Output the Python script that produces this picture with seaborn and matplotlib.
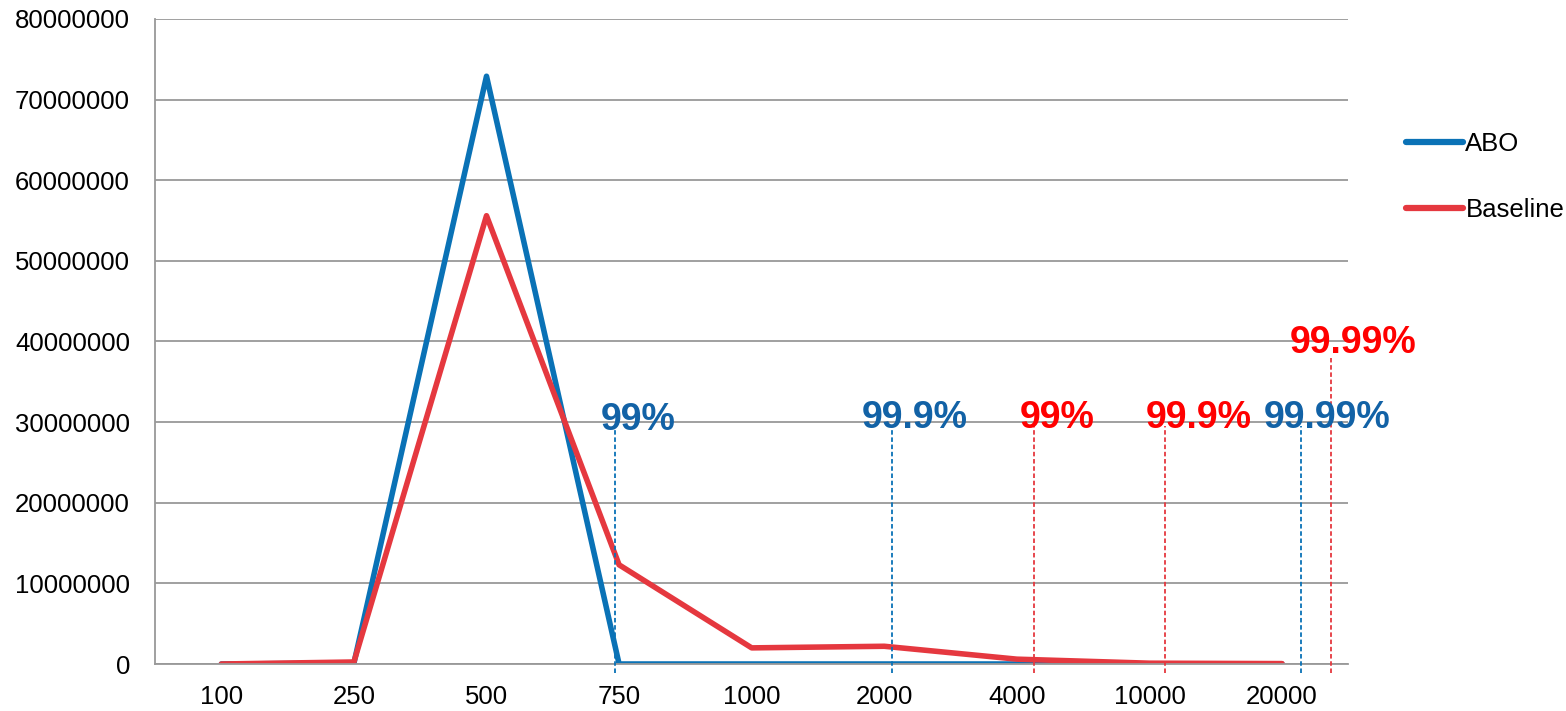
import matplotlib
matplotlib.use("Agg")
import matplotlib.pyplot as plt
import seaborn as sns
import pandas as pd
from matplotlib.ticker import FixedLocator, FuncFormatter

sns.set_style("white")
plt.rcParams['font.family'] = ['Liberation Sans', 'DejaVu Sans']
plt.rcParams['text.color'] = 'black'

# data
categories = ["100", "250", "500", "750", "1000", "2000", "4000", "10000", "20000"]
abo = [0, 100000, 72900000, 0, 0, 0, 0, 0, 0]
baseline = [0, 250000, 55600000, 12300000, 2000000, 2200000, 600000, 100000, 50000]

# percentile markers (position on category axis, label, series)
marker_pos = [2.97, 5.06, 6.13, 7.12, 8.14, 8.37]
marker_text = ["99%", "99.9%", "99%", "99.9%", "99.99%", "99.99%"]
marker_series = ["ABO", "ABO", "Baseline", "Baseline", "ABO", "Baseline"]
marker_top = [29500000, 29500000, 29500000, 29500000, 29500000, 38000000]
label_x = [2.86, 4.83, 6.02, 6.97, 7.86, 8.06]
label_y = [29000000, 29300000, 29300000, 29300000, 29300000, 38600000]

line_colors = {"ABO": "#0A72B6", "Baseline": "#E5383F"}
text_colors = {"ABO": "#1262A6", "Baseline": "#FF0000"}

df = pd.DataFrame({
    "size": categories * 2,
    "value": abo + baseline,
    "series": ["ABO"] * len(categories) + ["Baseline"] * len(categories),
})

fig = plt.figure(figsize=(15.66, 7.11), dpi=100)
ax = fig.add_axes([0.099, 0.0661, 0.762, 0.9072])

sns.lineplot(data=df, x="size", y="value", hue="series", palette=line_colors,
             linewidth=4, ax=ax, sort=False)

# dashed percentile lines + labels
for pos, txt, ser, top, lx, ly in zip(marker_pos, marker_text, marker_series,
                                      marker_top, label_x, label_y):
    ax.plot([pos, pos], [-1100000, top], linestyle=(0, (2.5, 1.5)), lw=1.3,
            color=line_colors[ser], clip_on=False, zorder=3)
    ax.text(lx, ly, txt, color=text_colors[ser], fontsize=27, fontweight="bold",
            ha="left", va="baseline", zorder=4)

ax.set_xlim(-0.5, 8.5)
ax.set_ylim(0, 80000000)
ax.set_xlabel("")
ax.set_ylabel("")

ax.set_xticks(range(len(categories)))
ax.set_xticklabels(categories)
ax.xaxis.set_minor_locator(FixedLocator([i + 0.5 for i in range(-1, len(categories))]))
ax.tick_params(axis="x", which="major", length=0, pad=15, labelsize=18.5,
               labelcolor="black")
ax.tick_params(axis="x", which="minor", length=6, width=1.3, color="#999999")

ax.set_yticks(range(0, 80000001, 10000000))
ax.yaxis.set_major_formatter(FuncFormatter(lambda v, p: f"{int(v)}"))
ax.tick_params(axis="y", length=7, width=1.3, color="#999999", labelsize=18.5,
               labelcolor="black", pad=11)

ax.grid(axis="y", color="#999999", lw=1.3)
ax.set_axisbelow(True)
for side in ["top", "right"]:
    ax.spines[side].set_visible(False)
for side in ["left", "bottom"]:
    ax.spines[side].set_color("#999999")
    ax.spines[side].set_linewidth(1.3)

leg = ax.legend(loc="upper left", bbox_to_anchor=(1.04, 0.84), frameon=False,
                fontsize=18.5, handlelength=2.2, handletextpad=0.1,
                labelspacing=1.6, borderaxespad=0)
for line in leg.get_lines():
    line.set_linewidth(4.5)
    line.set_solid_capstyle("round")
for t in leg.get_texts():
    t.set_color("black")

fig.savefig("out.png", dpi=100)
